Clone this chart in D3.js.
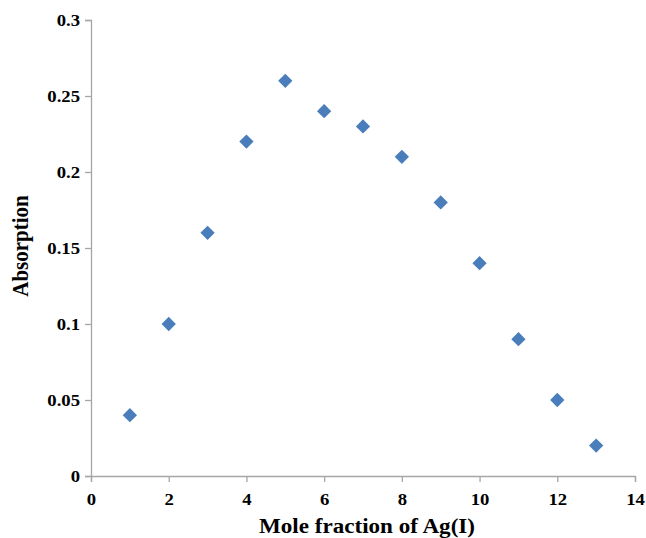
<!DOCTYPE html>
<html><head><meta charset="utf-8">
<script src="https://cdn.jsdelivr.net/npm/d3@7"></script>
<style>body{margin:0;background:#fff}svg{display:block}</style>
</head><body><svg id="c" width="646" height="538"></svg>
<script>
const xValues = [1,2,3,4,5,6,7,8,9,10,11,12,13];
const absorption = [0.04,0.10,0.16,0.22,0.26,0.24,0.23,0.21,0.18,0.14,0.09,0.05,0.02];
const xTicks = [0,2,4,6,8,10,12,14];
const yTicks = [0,0.05,0.1,0.15,0.2,0.25,0.3];
const xTitle = "Mole fraction of Ag(I)";
const yTitle = "Absorption";

const svg = d3.select("#c");
const x = d3.scaleLinear().domain([0,14]).range([91,635]);
const y = d3.scaleLinear().domain([0,0.3]).range([476,20]);
const font = "'Liberation Serif','Times New Roman',serif";
const axisColor = "#a6a6a6";

const xa = svg.append("g").attr("transform","translate(0,476)")
  .call(d3.axisBottom(x).tickValues(xTicks).tickSize(6).tickFormat(d3.format("d")));
const ya = svg.append("g").attr("transform","translate(91,0)")
  .call(d3.axisLeft(y).tickValues(yTicks).tickSize(6).tickFormat(d=>String(+d.toFixed(2))));
[xa,ya].forEach(g=>{
  g.selectAll("path,line").attr("stroke",axisColor).attr("stroke-width",1.3);
  g.selectAll("text").attr("fill","#000").style("font-family",font).style("font-weight","bold").style("font-size","17px");
});
xa.selectAll(".tick text").attr("y",null).attr("dy",null).attr("transform","translate(0,29) scale(1.1,1)");
ya.selectAll(".tick text").attr("x",null).attr("dy",null).attr("transform","translate(-11,5.5) scale(1.1,1)");

svg.append("g").selectAll("path").data(xValues).join("path")
  .attr("d", d3.symbol().type(d3.symbolDiamond2).size(130))
  .attr("transform",(d,i)=>`translate(${x(d)},${y(absorption[i])})`)
  .attr("fill","#4a7ebb");

svg.append("text").attr("transform","translate(367,533) scale(1.1,1)").attr("text-anchor","middle")
  .style("font-family",font).style("font-weight","bold").style("font-size","21px").text(xTitle);
svg.append("text").attr("transform","translate(27.5,246) rotate(-90) scale(1,1.1)").attr("text-anchor","middle")
  .style("font-family",font).style("font-weight","bold").style("font-size","21px").text(yTitle);
</script></body></html>
